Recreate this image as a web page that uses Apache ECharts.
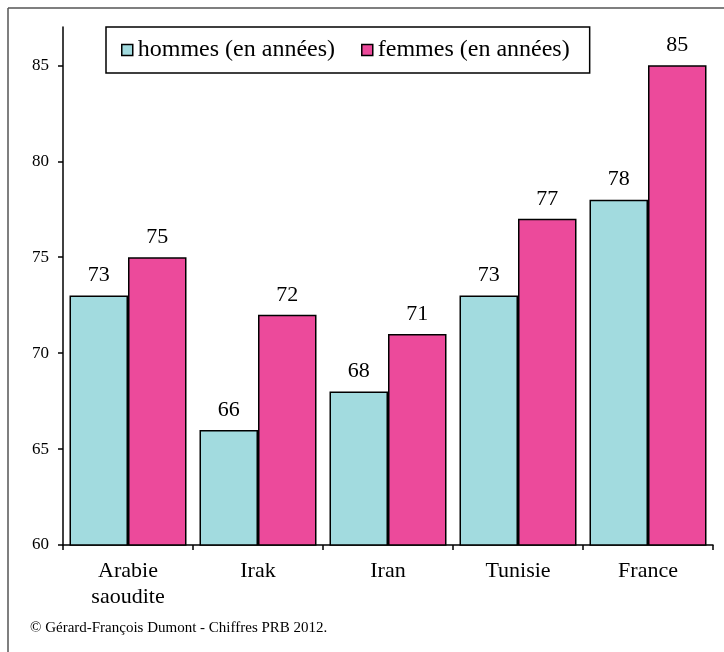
<!DOCTYPE html>
<html>
<head>
<meta charset="utf-8">
<script src="https://cdn.jsdelivr.net/npm/echarts@6/dist/echarts.min.js"></script>
<style>
html,body{margin:0;padding:0;background:#fff;}
#chart{width:724px;height:652px;}
</style>
</head>
<body>
<div id="chart"></div>
<script>
const categories = ['Arabie\nsaoudite', 'Irak', 'Iran', 'Tunisie', 'France'];
const hommes = [73, 66, 68, 73, 78];
const femmes = [75, 72, 71, 77, 85];
const yTicks = [60, 65, 70, 75, 80, 85];
const seriesNames = ['hommes (en années)', 'femmes (en années)'];
const footer = '© Gérard-François Dumont - Chiffres PRB 2012.';

const FONT = '"Liberation Serif", "Times New Roman", serif';
const chart = echarts.init(document.getElementById('chart'), null, {renderer: 'canvas'});

const barLabel = {
  show: true, position: 'top', distance: 9,
  fontFamily: FONT, fontSize: 22, color: '#000'
};

chart.setOption({
  animation: false,
  backgroundColor: '#fff',
  textStyle: {fontFamily: FONT},
  graphic: [
    {type: 'line', shape: {x1: 8, y1: 8, x2: 724, y2: 8}, style: {stroke: '#555', lineWidth: 1.5}},
    {type: 'line', shape: {x1: 8, y1: 8, x2: 8, y2: 652}, style: {stroke: '#555', lineWidth: 1.5}},
    {type: 'text', left: 30, top: 621, style: {text: footer, font: '15px ' + FONT, fill: '#000'}}
  ],
  legend: {
    left: 106, top: 27,
    padding: [11, 20, 11, 15],
    itemGap: 26, itemWidth: 11, itemHeight: 11,
    borderColor: '#000', borderWidth: 1.5,
    textStyle: {fontFamily: FONT, fontSize: 24, color: '#000'},
    itemStyle: {borderColor: '#000', borderWidth: 1.5},
    data: seriesNames.map(n => ({name: n, icon: 'rect'}))
  },
  grid: {left: 63, right: 11, top: 27, bottom: 107, containLabel: false},
  xAxis: {
    type: 'category',
    data: categories,
    axisLine: {lineStyle: {color: '#000', width: 1.5}},
    axisTick: {show: true, length: 5, lineStyle: {color: '#000', width: 1.5}},
    axisLabel: {fontFamily: FONT, fontSize: 22, color: '#000', margin: 13, lineHeight: 26}
  },
  yAxis: {
    type: 'value',
    min: 60, max: 87,
    splitLine: {show: false},
    axisLine: {show: true, lineStyle: {color: '#000', width: 1.5}},
    axisTick: {show: true, length: 5, lineStyle: {color: '#000', width: 1.5}, customValues: yTicks},
    axisLabel: {fontFamily: FONT, fontSize: 17, color: '#000', margin: 14, customValues: yTicks}
  },
  series: [
    {
      name: seriesNames[0], type: 'bar', data: hommes,
      barGap: '0%', barCategoryGap: '10%',
      itemStyle: {color: '#A2DBDF', borderColor: '#000', borderWidth: 1.5},
      label: barLabel
    },
    {
      name: seriesNames[1], type: 'bar', data: femmes,
      barGap: '0%', barCategoryGap: '10%',
      itemStyle: {color: '#EC4A9B', borderColor: '#000', borderWidth: 1.5},
      label: barLabel
    }
  ]
});
</script>
</body>
</html>
